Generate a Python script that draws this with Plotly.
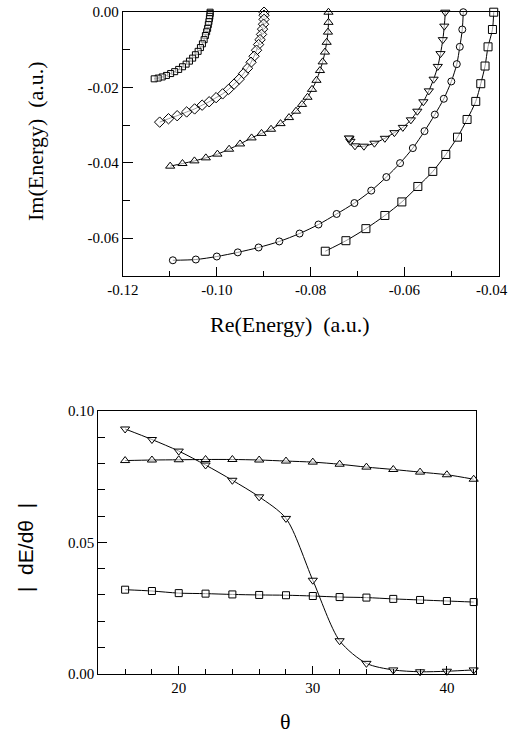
import plotly.graph_objects as go

# ---------------- Top panel: complex energies (Re, Im) ----------------
sq_small_re = [-0.10142, -0.10142, -0.10148, -0.10157, -0.10167, -0.10180, -0.10195, -0.10216,
               -0.10242, -0.10269, -0.10306, -0.10348, -0.10397, -0.10455, -0.10514, -0.10582,
               -0.10653, -0.10731, -0.10812, -0.10897, -0.10983, -0.11072, -0.11163, -0.11249, -0.11334]
sq_small_im = [0.0, -0.0004, -0.0011, -0.0017, -0.0025, -0.0033, -0.0043, -0.0052,
               -0.0062, -0.0073, -0.0084, -0.0094, -0.0104, -0.0113, -0.0122, -0.0130,
               -0.0138, -0.0145, -0.0152, -0.0158, -0.0163, -0.0168, -0.0172, -0.0175, -0.0177]

dia_re = [-0.08992, -0.08992, -0.08992, -0.09003, -0.09024, -0.09046, -0.09077, -0.09109,
          -0.09152, -0.09205, -0.09269, -0.09344, -0.09429, -0.09524, -0.09631, -0.09748,
          -0.09876, -0.10014, -0.10163, -0.10312, -0.10472, -0.10642, -0.10844, -0.11029, -0.11217]
dia_im = [0.0, -0.0008, -0.0019, -0.0032, -0.0045, -0.0059, -0.0073, -0.0086,
          -0.0101, -0.0117, -0.0133, -0.0149, -0.0163, -0.0178, -0.0191, -0.0205,
          -0.0217, -0.0227, -0.0238, -0.0247, -0.0257, -0.0265, -0.0275, -0.0283, -0.0292]

tri_up_re = [-0.07619, -0.07619, -0.07630, -0.07658, -0.07694, -0.07743, -0.07800, -0.07875,
             -0.07970, -0.08066, -0.08183, -0.08311, -0.08460, -0.08641, -0.08843, -0.09046,
             -0.09258, -0.09503, -0.09737, -0.09986, -0.10233, -0.10476, -0.10731, -0.10993]
tri_up_im = [0.0, -0.0027, -0.0053, -0.0080, -0.0106, -0.0132, -0.0155, -0.0181,
             -0.0205, -0.0226, -0.0245, -0.0263, -0.0280, -0.0296, -0.0311, -0.0322,
             -0.0334, -0.0350, -0.0364, -0.0377, -0.0387, -0.0395, -0.0402, -0.0409]

tri_dn_re = [-0.05129, -0.05150, -0.05182, -0.05231, -0.05289, -0.05378, -0.05480, -0.05597,
             -0.05725, -0.05863, -0.06034, -0.06214, -0.06417, -0.06640, -0.06864, -0.07055,
             -0.07151, -0.07172, -0.07183]
tri_dn_im = [0.0, -0.0037, -0.0073, -0.0110, -0.0144, -0.0178, -0.0209, -0.0238,
             -0.0263, -0.0286, -0.0306, -0.0320, -0.0335, -0.0348, -0.0356, -0.0355,
             -0.0343, -0.0336, -0.0334]

circ_re = [-0.04746, -0.04767, -0.04820, -0.04884, -0.05001, -0.05161, -0.05352, -0.05572,
           -0.05821, -0.06093, -0.06385, -0.06708, -0.07066, -0.07445, -0.07832, -0.08235,
           -0.08667, -0.09109, -0.09552, -0.09999, -0.10446, -0.10936]
circ_im = [0.0, -0.0046, -0.0092, -0.0138, -0.0184, -0.0230, -0.0272, -0.0316,
           -0.0361, -0.0401, -0.0438, -0.0474, -0.0507, -0.0536, -0.0564, -0.0588,
           -0.0609, -0.0625, -0.0638, -0.0649, -0.0657, -0.0659]

sq_big_re = [-0.04097, -0.04124, -0.04218, -0.04282, -0.04373, -0.04480, -0.04665, -0.04869,
             -0.05118, -0.05395, -0.05714, -0.06055, -0.06417, -0.06821, -0.07247, -0.07687]
sq_big_im = [0.0, -0.0046, -0.0092, -0.0143, -0.0190, -0.0237, -0.0285, -0.0332,
             -0.0378, -0.0423, -0.0463, -0.0504, -0.0540, -0.0575, -0.0607, -0.0635]

# ---------------- Bottom panel: |dE/dtheta| vs theta ----------------
theta = [16, 18, 20, 22, 24, 26, 28, 30, 32, 34, 36, 38, 40, 42]
deriv_tri_dn = [0.0931, 0.0891, 0.0847, 0.0794, 0.0736, 0.0673, 0.0591, 0.0356,
                0.0126, 0.0040, 0.0015, 0.0008, 0.0010, 0.0015]
deriv_tri_up = [0.0811, 0.0813, 0.0814, 0.0815, 0.0815, 0.0813, 0.0809, 0.0805,
                0.0797, 0.0786, 0.0777, 0.0767, 0.0757, 0.0740]
deriv_sq = [0.0320, 0.0315, 0.0307, 0.0305, 0.0302, 0.0300, 0.0299, 0.0296,
            0.0292, 0.0290, 0.0285, 0.0281, 0.0277, 0.0273]

# Tick labels (the last top-x label sits at the page edge, so it is placed right-aligned)
top_x_ticks = [-0.12, -0.10, -0.08, -0.06, -0.04]
top_x_labels = ["-0.12", "-0.10", "-0.08", "-0.06", "-0.04"]
top_y_ticks = [0.0, -0.02, -0.04, -0.06]
top_y_labels = ["0.00", "-0.02", "-0.04", "-0.06"]
bot_x_ticks = [20, 30, 40]
bot_x_labels = ["20", "30", "40"]
bot_y_ticks = [0.0, 0.05, 0.10]
bot_y_labels = ["0.00", "0.05", "0.10"]

SERIF = "Liberation Serif, Times New Roman, serif"
SANS = "Liberation Sans, Arial, sans-serif"

fig = go.Figure()

def add(x, y, symbol, size, xa, ya):
    fig.add_trace(go.Scatter(
        x=x, y=y, mode="lines+markers", xaxis=xa, yaxis=ya, cliponaxis=False,
        line=dict(color="black", width=1, shape="spline", smoothing=0.8),
        marker=dict(symbol=symbol, size=size, color="rgba(255,255,255,0.6)",
                    line=dict(color="black", width=1)),
        showlegend=False, hoverinfo="skip"))

add(sq_small_re, sq_small_im, "square", 6, "x", "y")
add(dia_re, dia_im, "diamond", 8, "x", "y")
add(tri_up_re, tri_up_im, "triangle-up", 8, "x", "y")
add(tri_dn_re, tri_dn_im, "triangle-down", 8, "x", "y")
add(circ_re, circ_im, "circle", 7, "x", "y")
add(sq_big_re, sq_big_im, "square", 8, "x", "y")

add(theta, deriv_tri_dn, "triangle-down", 8, "x2", "y2")
add(theta, deriv_tri_up, "triangle-up", 8, "x2", "y2")
add(theta, deriv_sq, "square", 7, "x2", "y2")

W, H = 511, 734

def px(x):
    return x / W

def py(y):
    return 1 - y / H

axis_common = dict(showgrid=False, zeroline=False, showline=True, linecolor="black",
                   linewidth=1, mirror=True, ticks="inside", tickcolor="black",
                   automargin=False, ticklabeloverflow="allow",
                   tickfont=dict(family=SERIF, size=15, color="black"))

fig.update_layout(
    width=W, height=H, margin=dict(l=0, r=0, t=0, b=0),
    plot_bgcolor="white", paper_bgcolor="white",
    xaxis=dict(domain=[px(122.7), px(498.5)], range=[-0.12005, -0.03995], anchor="y",
               tickvals=top_x_ticks, ticktext=top_x_labels[:-1] + [""], ticklen=9,
               minor=dict(dtick=0.01, tick0=0, ticks="inside", ticklen=5, tickcolor="black"),
               **axis_common),
    yaxis=dict(domain=[py(275.7), py(12)], range=[-0.07, 0.00005], anchor="x",
               tickvals=top_y_ticks, ticktext=top_y_labels, ticklen=10,
               minor=dict(dtick=0.01, tick0=0, ticks="inside", ticklen=7, tickcolor="black"),
               **axis_common),
    xaxis2=dict(domain=[px(98.3), px(475.7)], range=[14, 42.15], anchor="y2",
                tickvals=bot_x_ticks, ticktext=bot_x_labels, ticklen=8,
                minor=dict(dtick=2, tick0=0, ticks="inside", ticklen=5, tickcolor="black"),
                **axis_common),
    yaxis2=dict(domain=[py(674), py(410.7)], range=[-0.00005, 0.10005], anchor="x2",
                tickvals=bot_y_ticks, ticktext=bot_y_labels, ticklen=9,
                minor=dict(dtick=0.01, tick0=0, ticks="inside", ticklen=7, tickcolor="black"),
                **axis_common),
    annotations=[
        dict(text=top_x_labels[-1], x=px(510), y=py(289.5), xref="paper", yref="paper",
             showarrow=False, xanchor="right", yanchor="middle",
             font=dict(family=SERIF, size=15, color="black")),
        dict(text="Re(Energy)  (a.u.)", x=px(290), y=py(324), xref="paper", yref="paper",
             showarrow=False, xanchor="center", yanchor="middle",
             font=dict(family=SERIF, size=22, color="black")),
        dict(text="Im(Energy)  (a.u.)", x=px(35), y=py(141), xref="paper", yref="paper",
             showarrow=False, xanchor="center", yanchor="middle", textangle=-90,
             font=dict(family=SERIF, size=22, color="black")),
        dict(text="θ", x=px(285), y=py(721), xref="paper", yref="paper",
             showarrow=False, xanchor="center", yanchor="middle",
             font=dict(family=SERIF, size=22, color="black")),
        dict(text="|  dE/dθ  |", x=px(25), y=py(548), xref="paper", yref="paper",
             showarrow=False, xanchor="center", yanchor="middle", textangle=-90,
             font=dict(family=SANS, size=21, color="black")),
    ],
)

fig.write_html("out.html")
